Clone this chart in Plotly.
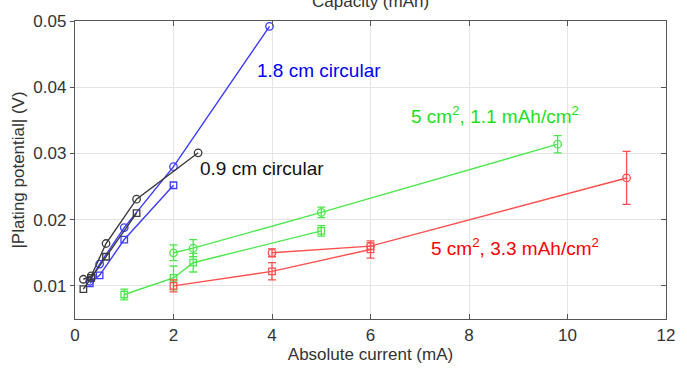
import plotly.graph_objects as go

# ---- data ----
blue_circ_x = [0.3, 0.5, 1.0, 2.0, 3.95]
blue_circ_y = [0.0107, 0.0133, 0.0188, 0.0280, 0.0492]
blue_sq_x = [0.3, 0.5, 1.0, 2.0]
blue_sq_y = [0.0104, 0.0116, 0.0170, 0.0252]

black_circ_x = [0.17, 0.33, 0.63, 1.25, 2.5]
black_circ_y = [0.0110, 0.0115, 0.0164, 0.0231, 0.0301]
black_sq_x = [0.17, 0.33, 0.63, 1.25]
black_sq_y = [0.0095, 0.0112, 0.0144, 0.0210]

green_circ_x = [2.0, 2.4, 5.0, 9.8]
green_circ_y = [0.0150, 0.0157, 0.0211, 0.0314]
green_circ_err = [0.0012, 0.0013, 0.0008, 0.0013]
green_sq_x = [1.0, 2.0, 2.4, 5.0]
green_sq_y = [0.0087, 0.0112, 0.0135, 0.0183]
green_sq_err = [0.0008, 0.0018, 0.0014, 0.0008]

red_circ_x = [4.0, 6.0, 11.2]
red_circ_y = [0.0150, 0.0160, 0.0263]
red_circ_err = [0.0006, 0.0005, 0.0040]
red_sq_x = [2.0, 4.0, 6.0]
red_sq_y = [0.0100, 0.0122, 0.0155]
red_sq_err = [0.0009, 0.0013, 0.0013]

x_ticks = [0, 2, 4, 6, 8, 10, 12]
y_ticks = [0.01, 0.02, 0.03, 0.04, 0.05]

labels = ["1.8 cm circular", "0.9 cm circular",
          "5 cm<sup>2</sup>, 1.1 mAh/cm<sup>2</sup>",
          "5 cm<sup>2</sup>, 3.3 mAh/cm<sup>2</sup>"]
label_x = [3.65, 2.5, 6.79, 7.19]
label_y = [0.0425, 0.0277, 0.0358, 0.0158]

BLUE_L, BLUE_T = "#3c3cff", "#0000ff"
BLACK_L, BLACK_T = "#3a3a3a", "#111111"
GREEN_L, GREEN_T = "#4be84b", "#1ee01e"
RED_L, RED_T = "#ff4f4f", "#ff0000"

fig = go.Figure()


def add(x, y, color, symbol, err=None):
    kw = {}
    if err is not None:
        kw["error_y"] = dict(type="data", array=err, visible=True,
                             color=color, thickness=1.3, width=4)
    size = 7.5 if symbol.startswith("circle") else 6.5
    fig.add_trace(go.Scatter(
        x=x, y=y, mode="lines+markers",
        line=dict(color=color, width=1.4),
        marker=dict(symbol=symbol, size=size, color=color,
                    line=dict(color=color, width=1.3)),
        showlegend=False, **kw))


add(blue_circ_x, blue_circ_y, BLUE_L, "circle-open")
add(blue_sq_x, blue_sq_y, BLUE_L, "square-open")
add(black_circ_x, black_circ_y, BLACK_L, "circle-open")
add(black_sq_x, black_sq_y, BLACK_L, "square-open")
add(green_circ_x, green_circ_y, GREEN_L, "circle-open", green_circ_err)
add(green_sq_x, green_sq_y, GREEN_L, "square-open", green_sq_err)
add(red_circ_x, red_circ_y, RED_L, "circle-open", red_circ_err)
add(red_sq_x, red_sq_y, RED_L, "square-open", red_sq_err)

# invisible trace to activate secondary mirrored axes
fig.add_trace(go.Scatter(x=[None], y=[None], xaxis="x2", yaxis="y2",
                         showlegend=False, hoverinfo="skip"))

label_colors = [BLUE_T, BLACK_T, GREEN_T, RED_T]
for t, lx, ly, c in zip(labels, label_x, label_y, label_colors):
    fig.add_annotation(x=lx, y=ly, text=t, showarrow=False, xanchor="left",
                       yanchor="middle", font=dict(size=19, color=c,
                                                   family="Arial, Liberation Sans"))

fig.add_annotation(x=0.5, y=1.028, xref="paper", yref="paper", text="Capacity (mAh)",
                   showarrow=False, xanchor="center", yanchor="bottom",
                   font=dict(size=17, color="#333333", family="Arial, Liberation Sans"))

AX = "#555555"
GRID = "#e4e4e4"
TF = dict(size=17, color="#333333", family="Arial, Liberation Sans")

fig.update_layout(
    width=687, height=372,
    margin=dict(l=75, r=15, t=17, b=52),
    paper_bgcolor="white", plot_bgcolor="white",
    xaxis=dict(range=[0, 12], tickvals=x_ticks, showgrid=True, gridcolor=GRID,
               zeroline=False, showline=True, linecolor=AX, linewidth=1.3,
               ticks="inside", ticklen=5, tickcolor=AX, tickfont=TF,
               title=dict(text="Absolute current (mA)", font=TF, standoff=4)),
    yaxis=dict(range=[0.005, 0.05], tickvals=y_ticks, showgrid=True, gridcolor=GRID,
               zeroline=False, showline=True, linecolor=AX, linewidth=1.3,
               ticks="outside", ticklen=4, tickcolor=AX, tickfont=TF,
               title=dict(text="|Plating potential| (V)", font=TF, standoff=4)),
    xaxis2=dict(range=[0, 12], tickvals=x_ticks, overlaying="x", side="top",
                showgrid=False, zeroline=False, showline=True, linecolor=AX,
                linewidth=1.3, ticks="inside", ticklen=5, tickcolor=AX,
                showticklabels=False),
    yaxis2=dict(range=[0.005, 0.05], tickvals=y_ticks, overlaying="y", side="right",
                showgrid=False, zeroline=False, showline=True, linecolor=AX,
                linewidth=1.3, ticks="inside", ticklen=5, tickcolor=AX,
                showticklabels=False),
)

fig.write_html("out.html")
